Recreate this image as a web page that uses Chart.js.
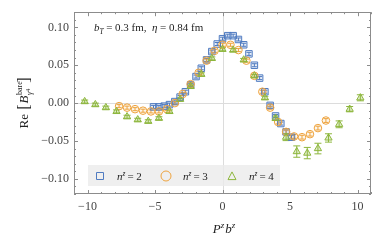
<!DOCTYPE html>
<html>
<head>
<meta charset="utf-8">
<script src="https://cdn.jsdelivr.net/npm/chart.js@4/dist/chart.umd.min.js"></script>
<style>
  html, body { margin: 0; padding: 0; background: #fff; }
  canvas { display: block; }
</style>
</head>
<body>
<canvas id="chart" width="382" height="243"></canvas>
<script>
// P^z b^z positions for each n^z (z = -13 .. 13)
var xN2 = [-5.11, -4.71, -4.32, -3.93, -3.53, -3.14, -2.75, -2.36, -1.96, -1.57, -1.18, -0.79, -0.39, 0,
           0.39, 0.79, 1.18, 1.57, 1.96, 2.36, 2.75, 3.14, 3.53, 3.93, 4.32, 4.71, 5.11];
var xN3 = [-7.66, -7.07, -6.48, -5.89, -5.30, -4.71, -4.12, -3.53, -2.95, -2.36, -1.77, -1.18, -0.59, 0,
           0.59, 1.18, 1.77, 2.36, 2.95, 3.53, 4.12, 4.71, 5.30, 5.89, 6.48, 7.07, 7.66];
var xN4 = [-10.21, -9.42, -8.64, -7.85, -7.07, -6.28, -5.50, -4.71, -3.93, -3.14, -2.36, -1.57, -0.79, 0,
           0.79, 1.57, 2.36, 3.14, 3.93, 4.71, 5.50, 6.28, 7.07, 7.85, 8.64, 9.42, 10.21];

var yN2 = [-0.005, -0.005, -0.004, -0.002, 0.002, 0.008, 0.015, 0.024, 0.035, 0.046, 0.057, 0.068, 0.078, 0.085,
           0.089, 0.089, 0.084, 0.077, 0.065, 0.050, 0.033, 0.015, -0.003, -0.017, -0.027, -0.038, -0.045];
var yN3 = [-0.004, -0.006, -0.008, -0.010, -0.011, -0.011, -0.008, 0.000, 0.012, 0.025, 0.040, 0.056, 0.069, 0.077,
           0.077, 0.070, 0.056, 0.036, 0.015, -0.006, -0.025, -0.038, -0.044, -0.045, -0.041, -0.033, -0.023];
var yN4 = [0.002, -0.002, -0.006, -0.011, -0.018, -0.022, -0.024, -0.020, -0.011, 0.005, 0.022, 0.038, 0.059, 0.071,
           0.070, 0.057, 0.036, 0.007, -0.020, -0.045, -0.064, -0.066, -0.060, -0.046, -0.028, -0.008, 0.007];

var eN2 = [0.002, 0.002, 0.002, 0.002, 0.002, 0.002, 0.002, 0.002, 0.002, 0.002, 0.002, 0.002, 0.002, 0.002,
           0.002, 0.002, 0.002, 0.002, 0.002, 0.002, 0.002, 0.002, 0.002, 0.002, 0.002, 0.0025, 0.0025];
var eN3 = [0.002, 0.002, 0.002, 0.002, 0.002, 0.002, 0.002, 0.002, 0.002, 0.002, 0.002, 0.002, 0.002, 0.002,
           0.002, 0.002, 0.002, 0.002, 0.002, 0.002, 0.0025, 0.0025, 0.0025, 0.0025, 0.0025, 0.0025, 0.0025];
var eN4 = [0.002, 0.002, 0.002, 0.002, 0.002, 0.002, 0.002, 0.002, 0.002, 0.002, 0.002, 0.002, 0.002, 0.002,
           0.002, 0.002, 0.002, 0.002, 0.003, 0.0045, 0.0075, 0.0075, 0.007, 0.0055, 0.0045, 0.0035, 0.004];

var xTicks = [-10, -5, 0, 5, 10];
var yTicks = [-0.10, -0.05, 0.00, 0.05, 0.10];

var seriesNames = ['2', '3', '4'];
var colors = ['#4f7bc1', '#eea33e', '#8db63c'];
var fills = ['rgba(79,123,193,0.12)', 'rgba(238,163,62,0.10)', 'rgba(141,182,60,0.28)'];

var SERIF = '"Liberation Serif", "DejaVu Serif", serif';

function pts(xs, ys) {
  return xs.map(function(x, i) { return { x: x, y: ys[i] }; });
}

function minus(s) { return String(s).replace('-', '\u2212'); }

function drawRuns(ctx, runs, x, y) {
  // runs: {t, f, dy, adv}; adv overrides width advance (for stacked sup/sub)
  var cx = x;
  runs.forEach(function(r) {
    ctx.font = r.f;
    ctx.fillText(r.t, cx, y + (r.dy || 0));
    var w = ctx.measureText(r.t).width;
    cx += (r.adv !== undefined ? r.adv : w) + (r.gap || 0);
  });
  return cx;
}
function runsWidth(ctx, runs) {
  var w = 0;
  runs.forEach(function(r) {
    ctx.font = r.f;
    w += (r.adv !== undefined ? r.adv : ctx.measureText(r.t).width) + (r.gap || 0);
  });
  return w;
}

function marker(ctx, style, x, y, size, color, fill) {
  ctx.save();
  ctx.strokeStyle = color;
  ctx.fillStyle = fill;
  ctx.lineWidth = 1;
  ctx.beginPath();
  if (style === 'rect') {
    ctx.rect(x - size / 2, y - size / 2, size, size);
  } else if (style === 'circle') {
    ctx.arc(x, y, size / 2, 0, Math.PI * 2);
  } else {
    var h = size * 0.9;
    ctx.moveTo(x, y - h / 2 - 0.5);
    ctx.lineTo(x + size / 2, y + h / 2);
    ctx.lineTo(x - size / 2, y + h / 2);
    ctx.closePath();
  }
  ctx.fill();
  ctx.stroke();
  ctx.restore();
}

var errorBars = {
  id: 'errorBars',
  beforeDatasetsDraw: function(chart) {
    var ctx = chart.ctx, xs = chart.scales.x, ys = chart.scales.y;
    var area = chart.chartArea;
    ctx.save();
    // zero lines
    ctx.strokeStyle = '#dcdcdc';
    ctx.lineWidth = 1;
    ctx.beginPath();
    var x0 = Math.round(xs.getPixelForValue(0)) + 0.5;
    var y0 = Math.round(ys.getPixelForValue(0)) + 0.5;
    ctx.moveTo(x0, area.top); ctx.lineTo(x0, area.bottom);
    ctx.moveTo(area.left, y0); ctx.lineTo(area.right, y0);
    ctx.stroke();

    var sets = [[xN2, yN2, eN2, 5], [xN3, yN3, eN3, 5], [xN4, yN4, eN4, 7]];
    sets.forEach(function(s, k) {
      ctx.strokeStyle = colors[k];
      ctx.lineWidth = 1;
      ctx.beginPath();
      s[0].forEach(function(x, i) {
        var px = xs.getPixelForValue(x);
        var pt = ys.getPixelForValue(s[1][i] + s[2][i]);
        var pb = ys.getPixelForValue(s[1][i] - s[2][i]);
        var hw = s[3] / 2;
        ctx.moveTo(px, pt); ctx.lineTo(px, pb);
        ctx.moveTo(px - hw, pt); ctx.lineTo(px + hw, pt);
        ctx.moveTo(px - hw, pb); ctx.lineTo(px + hw, pb);
      });
      ctx.stroke();
    });
    ctx.restore();
  },
  afterDraw: function(chart) {
    var ctx = chart.ctx, xs = chart.scales.x, ys = chart.scales.y;
    var a = chart.chartArea;
    ctx.save();
    // frame
    ctx.strokeStyle = '#8c8c8c';
    ctx.lineWidth = 1;
    ctx.strokeRect(Math.round(a.left) + 0.5, Math.round(a.top) + 0.5,
                   Math.round(a.right - a.left) - 1, Math.round(a.bottom - a.top) - 1);

    // inward ticks, major and minor
    ctx.beginPath();
    var v, p, len;
    for (v = -11; v <= 11; v++) {
      p = Math.round(xs.getPixelForValue(v)) + 0.5;
      len = (v % 5 === 0) ? 4 : 2;
      ctx.moveTo(p, a.bottom); ctx.lineTo(p, a.bottom - len);
      ctx.moveTo(p, a.top); ctx.lineTo(p, a.top + len);
    }
    for (var k = -12; k <= 12; k++) {
      v = k / 100;
      p = Math.round(ys.getPixelForValue(v)) + 0.5;
      len = (k % 5 === 0) ? 4 : 2;
      ctx.moveTo(a.left, p); ctx.lineTo(a.left + len, p);
      ctx.moveTo(a.right, p); ctx.lineTo(a.right - len, p);
    }
    ctx.stroke();

    ctx.fillStyle = '#222';
    ctx.textBaseline = 'alphabetic';
    ctx.textAlign = 'left';

    // annotation
    drawRuns(ctx, [
      { t: 'b', f: 'italic 11px ' + SERIF },
      { t: 'T', f: 'italic 7.5px ' + SERIF, dy: 2.5, gap: 2.5 },
      { t: '= 0.3 fm,  ', f: '11px ' + SERIF },
      { t: '\u03b7', f: 'italic 11px ' + SERIF, gap: 2.5 },
      { t: '= 0.84 fm', f: '11px ' + SERIF }
    ], 94, 31);

    // x axis title
    var xr = [
      { t: 'P', f: 'italic 13px ' + SERIF },
      { t: 'z', f: 'italic 9px ' + SERIF, dy: -5, gap: 1 },
      { t: 'b', f: 'italic 13px ' + SERIF },
      { t: 'z', f: 'italic 9px ' + SERIF, dy: -5 }
    ];
    drawRuns(ctx, xr, 224 - runsWidth(ctx, xr) / 2, 233);

    // y axis title (rotated)
    ctx.save();
    ctx.translate(24, 103);
    ctx.rotate(-Math.PI / 2);
    var yr = [
      { t: 'Re ', f: '13px ' + SERIF, gap: 1 },
      { t: '[', f: '16px ' + SERIF, dy: 1, gap: 1 },
      { t: 'B', f: 'italic 13px ' + SERIF, gap: 0.5 },
      { t: 'bare', f: '8px ' + SERIF, dy: -6, adv: 0 },
      { t: '\u03b3', f: 'italic 8px ' + SERIF, dy: 4 },
      { t: '4', f: '6px ' + SERIF, dy: 2, gap: 6 },
      { t: ']', f: '16px ' + SERIF, dy: 1 }
    ];
    drawRuns(ctx, yr, -runsWidth(ctx, yr) / 2, 4);
    ctx.restore();

    // legend
    ctx.fillStyle = 'rgba(235,235,235,0.8)';
    ctx.fillRect(88, 165, 192, 21);
    var lx = [100, 166, 232];
    var styles = ['rect', 'circle', 'triangle'];
    var sizes = [7, 10, 8];
    lx.forEach(function(x, i) {
      marker(ctx, styles[i], x, 176, sizes[i], colors[i], 'rgba(255,255,255,0)');
      ctx.fillStyle = '#222';
      drawRuns(ctx, [
        { t: 'n', f: 'italic 11px ' + SERIF },
        { t: 'z', f: 'italic 7.5px ' + SERIF, dy: -4, gap: 2 },
        { t: '= ' + seriesNames[i], f: '11px ' + SERIF }
      ], x + 17, 180);
    });
    ctx.restore();
  }
};

var ctx = document.getElementById('chart').getContext('2d');
new Chart(ctx, {
  type: 'scatter',
  data: {
    datasets: [
      { label: 'n=2', data: pts(xN2, yN2), pointStyle: 'rect', pointRadius: 4.6, borderColor: colors[0],
        backgroundColor: fills[0], borderWidth: 1, order: 2 },
      { label: 'n=3', data: pts(xN3, yN3), pointStyle: 'circle', pointRadius: 3.8, borderColor: colors[1],
        backgroundColor: fills[1], borderWidth: 1, order: 1 },
      { label: 'n=4', data: pts(xN4, yN4), pointStyle: 'triangle', pointRadius: 4.2, borderColor: colors[2],
        backgroundColor: fills[2], borderWidth: 1, order: 0 }
    ]
  },
  options: {
    responsive: false,
    animation: false,
    devicePixelRatio: 1,
    layout: { padding: { left: 0, right: 11, top: 10, bottom: 0 } },
    plugins: { legend: { display: false }, tooltip: { enabled: false } },
    scales: {
      x: {
        type: 'linear', min: -11, max: 11,
        afterFit: function(s) { s.height = 49; },
        afterBuildTicks: function(s) { s.ticks = xTicks.map(function(v) { return { value: v }; }); },
        grid: { display: false, drawTicks: false },
        border: { display: false },
        ticks: { color: '#444', padding: 6, font: { family: SERIF, size: 12 },
                 maxRotation: 0, callback: function(v) { return minus(v); } }
      },
      y: {
        type: 'linear', min: -0.12, max: 0.12,
        afterFit: function(s) { s.width = 74; },
        afterBuildTicks: function(s) { s.ticks = yTicks.map(function(v) { return { value: v }; }); },
        grid: { display: false, drawTicks: false },
        border: { display: false },
        ticks: { color: '#444', padding: 5, font: { family: SERIF, size: 12 },
                 callback: function(v) { return minus(Number(v).toFixed(2)); } }
      }
    }
  },
  plugins: [errorBars]
});
</script>
</body>
</html>
